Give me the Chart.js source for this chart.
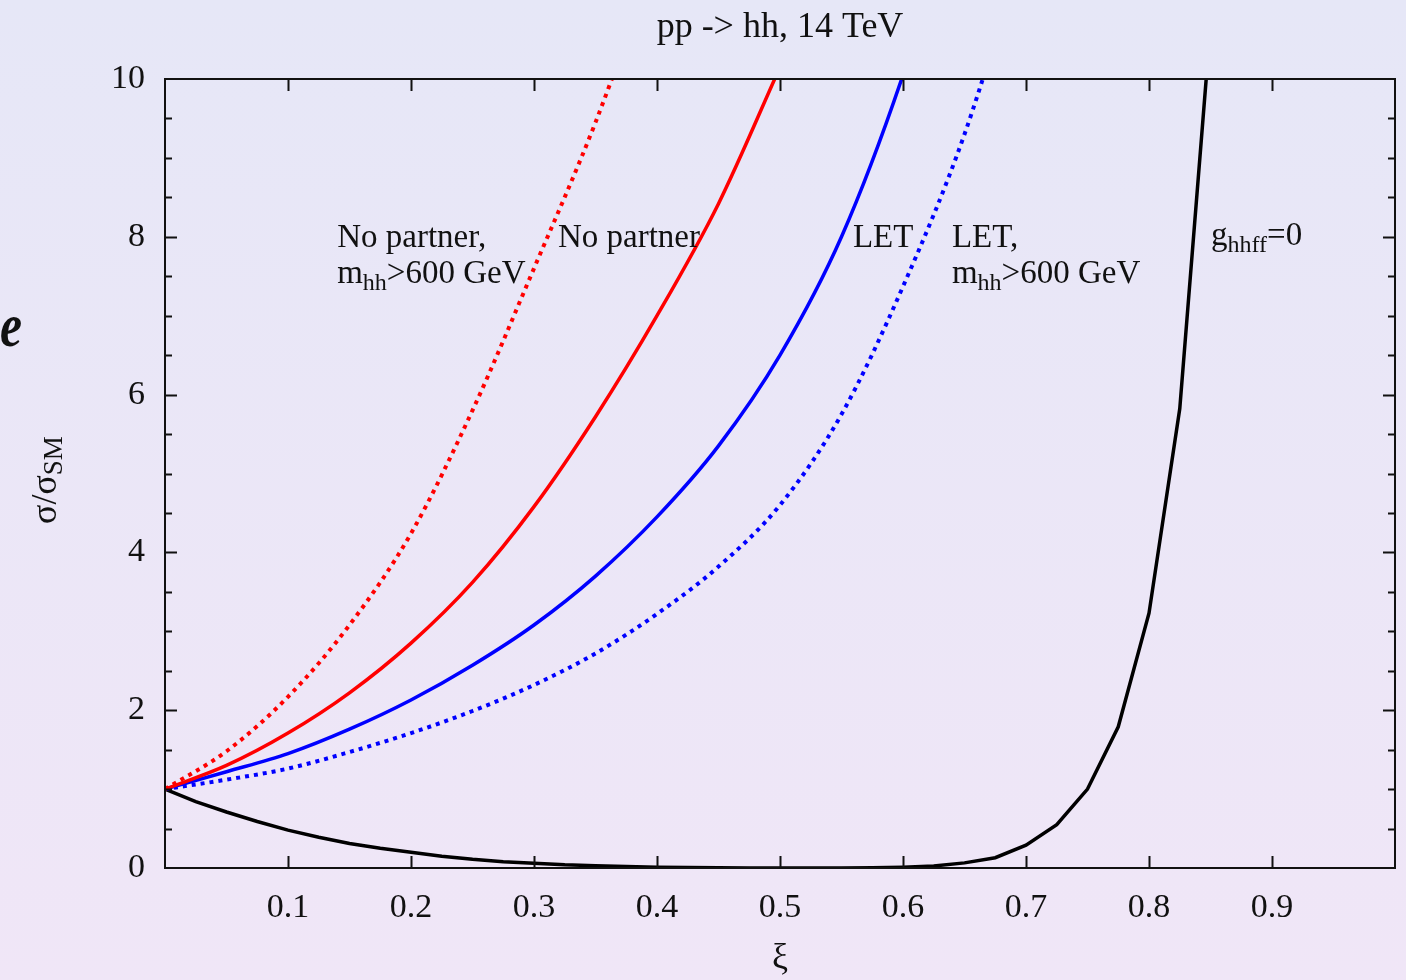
<!DOCTYPE html>
<html>
<head>
<meta charset="utf-8">
<script src="https://cdn.jsdelivr.net/npm/chart.js@4.4.0/dist/chart.umd.min.js"></script>
<style>
  html, body { margin: 0; padding: 0; }
  body { width: 1406px; height: 980px; overflow: hidden;
         background: linear-gradient(to bottom, #e6e7f7 0%, #f0e6f7 100%); }
  #wrap { position: relative; width: 1406px; height: 980px; }
</style>
</head>
<body>
<div id="wrap"><canvas id="chart" width="1406" height="980"></canvas></div>
<script>
// xi values (coarse grid for the smooth curves, fine grid for g_hhff = 0)
var xiCoarse = [0, 0.05, 0.1, 0.15, 0.2, 0.25, 0.3, 0.35, 0.4, 0.45, 0.5, 0.55, 0.6, 0.65, 0.7];
var xiFine = [0, 0.025, 0.05, 0.075, 0.1, 0.125, 0.15, 0.175, 0.2, 0.225, 0.25, 0.275,
              0.3, 0.325, 0.35, 0.375, 0.4, 0.425, 0.45, 0.475, 0.5, 0.525, 0.55, 0.575,
              0.6, 0.625, 0.65, 0.675, 0.7, 0.725, 0.75, 0.775, 0.8, 0.825, 0.85];

// sigma / sigma_SM
var noPartner    = [1.0, 1.30, 1.71, 2.22, 2.85, 3.62, 4.58, 5.72, 7.00, 8.42, 10.15];
var noPartnerCut = [1.0, 1.48, 2.17, 3.08, 4.24, 5.80, 7.60, 9.45, 11.6];
var letCurve     = [1.0, 1.22, 1.45, 1.76, 2.13, 2.57, 3.08, 3.70, 4.45, 5.35, 6.50, 8.00, 10.05, 12.6];
var letCut       = [1.0, 1.12, 1.26, 1.47, 1.71, 1.99, 2.32, 2.72, 3.22, 3.82, 4.60, 5.75, 7.37, 9.30, 11.8];
var ghhffZero    = [1.00, 0.84, 0.71, 0.59, 0.48, 0.39, 0.31, 0.25, 0.20, 0.15, 0.11, 0.08,
                    0.06, 0.04, 0.03, 0.02, 0.01, 0.005, 0.002, 0, 0, 0, 0.001, 0.003,
                    0.01, 0.025, 0.065, 0.13, 0.29, 0.55, 1.00, 1.79, 3.23, 5.82, 10.68];

var xTickValues = [0.1, 0.2, 0.3, 0.4, 0.5, 0.6, 0.7, 0.8, 0.9];
var yTickValues = [0, 2, 4, 6, 8, 10];

function pts(xs, ys) {
  var out = [];
  for (var i = 0; i < ys.length; i++) out.push({ x: xs[i], y: ys[i] });
  return out;
}

var SERIF = '"Liberation Serif", "Times New Roman", serif';
var FONT = '33px ' + SERIF;
var SUBFONT = '24px ' + SERIF;
var BIGFONT = '36px ' + SERIF;
var BIGSUB = '27px ' + SERIF;

// curve labels, anchored in data coordinates; parts are [text, isSubscript]
var curveLabels = [
  { x: 0.14,  y: 7.98, parts: [["No partner,", false]] },
  { x: 0.14,  y: 7.52, parts: [["m", false], ["hh", true], [">600 GeV", false]] },
  { x: 0.3195, y: 7.98, parts: [["No partner", false]] },
  { x: 0.5593, y: 7.98, parts: [["LET", false]] },
  { x: 0.6398, y: 7.98, parts: [["LET,", false]] },
  { x: 0.6398, y: 7.52, parts: [["m", false], ["hh", true], [">600 GeV", false]] },
  { x: 0.8504, y: 8.0,  parts: [["g", false], ["hhff", true], ["=0", false]] }
];

function drawParts(ctx, parts, x, y) {
  ctx.textAlign = "left";
  ctx.textBaseline = "middle";
  for (var i = 0; i < parts.length; i++) {
    var sub = parts[i][1];
    ctx.font = sub ? SUBFONT : FONT;
    ctx.fillText(parts[i][0], x, sub ? y + 9 : y);
    x += ctx.measureText(parts[i][0]).width;
  }
}

var framePlugin = {
  id: "frame",
  afterDatasetsDraw: function (chart) {
    var ctx = chart.ctx;
    var a = chart.chartArea;
    var xs = chart.scales.x, ys = chart.scales.y;
    ctx.save();
    ctx.strokeStyle = "#111";
    ctx.lineWidth = 2;
    ctx.strokeRect(a.left, a.top, a.right - a.left, a.bottom - a.top);

    ctx.beginPath();
    xTickValues.forEach(function (v) {
      var px = Math.round(xs.getPixelForValue(v)) + 0.5;
      ctx.moveTo(px, a.bottom); ctx.lineTo(px, a.bottom - 12);
      ctx.moveTo(px, a.top); ctx.lineTo(px, a.top + 12);
    });
    for (var v = 0.5; v < 10; v += 0.5) {
      var len = (v % 2 === 0) ? 12 : 7;
      var py = Math.round(ys.getPixelForValue(v)) + 0.5;
      ctx.moveTo(a.left, py); ctx.lineTo(a.left + len, py);
      ctx.moveTo(a.right, py); ctx.lineTo(a.right - len, py);
    }
    ctx.stroke();

    ctx.fillStyle = "#111";
    curveLabels.forEach(function (l) {
      drawParts(ctx, l.parts, xs.getPixelForValue(l.x), ys.getPixelForValue(l.y));
    });

    // title and axis titles
    ctx.font = BIGFONT;
    ctx.textAlign = "center";
    ctx.textBaseline = "alphabetic";
    ctx.fillText("pp -> hh, 14 TeV", (a.left + a.right) / 2, 37);
    ctx.fillText("\u03be", (a.left + a.right) / 2, 968);

    ctx.save();
    ctx.translate(56, 524);
    ctx.rotate(-Math.PI / 2);
    ctx.textAlign = "left";
    ctx.font = BIGFONT;
    ctx.fillText("\u03c3/\u03c3", 0, 0);
    var w = ctx.measureText("\u03c3/\u03c3").width;
    ctx.font = BIGSUB;
    ctx.fillText("SM", w, 6);
    ctx.restore();

    // stray glyph at the left edge of the original
    ctx.save();
    ctx.translate(0, 346);
    ctx.scale(0.8, 1);
    ctx.font = "italic bold 62px " + SERIF;
    ctx.textAlign = "left";
    ctx.fillText("e", 0, 0);
    ctx.restore();

    ctx.restore();
  }
};

new Chart(document.getElementById("chart"), {
  type: "line",
  data: {
    datasets: [
      { label: "No partner, mhh>600 GeV", data: pts(xiCoarse, noPartnerCut),
        borderColor: "#ff0000", borderWidth: 4, borderDash: [4, 5], cubicInterpolationMode: "monotone" },
      { label: "No partner", data: pts(xiCoarse, noPartner),
        borderColor: "#ff0000", borderWidth: 3.5, cubicInterpolationMode: "monotone" },
      { label: "LET", data: pts(xiCoarse, letCurve),
        borderColor: "#0000ff", borderWidth: 3.5, cubicInterpolationMode: "monotone" },
      { label: "LET, mhh>600 GeV", data: pts(xiCoarse, letCut),
        borderColor: "#0000ff", borderWidth: 4, borderDash: [4, 5], cubicInterpolationMode: "monotone" },
      { label: "ghhff=0", data: pts(xiFine, ghhffZero),
        borderColor: "#000000", borderWidth: 3.5, tension: 0 }
    ]
  },
  options: {
    responsive: false,
    animation: false,
    devicePixelRatio: 1,
    layout: { padding: { top: 79, right: 11, left: 0, bottom: 0 } },
    elements: { point: { radius: 0 }, line: { fill: false, borderCapStyle: "butt" } },
    plugins: { legend: { display: false }, title: { display: false }, tooltip: { enabled: false } },
    scales: {
      x: {
        type: "linear", min: 0, max: 1,
        grid: { display: false }, border: { display: false },
        afterFit: function (s) { s.height = 112; },
        afterBuildTicks: function (s) {
          s.ticks = xTickValues.map(function (v) { return { value: v }; });
        },
        ticks: {
          padding: 12, color: "#111", font: { family: SERIF, size: 34 },
          callback: function (v) { return v.toFixed(1); }
        }
      },
      y: {
        type: "linear", min: 0, max: 10,
        grid: { display: false }, border: { display: false },
        afterFit: function (s) { s.width = 165; },
        afterBuildTicks: function (s) {
          s.ticks = yTickValues.map(function (v) { return { value: v }; });
        },
        ticks: { padding: 12, color: "#111", font: { family: SERIF, size: 34 } }
      }
    }
  },
  plugins: [framePlugin]
});
</script>
</body>
</html>
